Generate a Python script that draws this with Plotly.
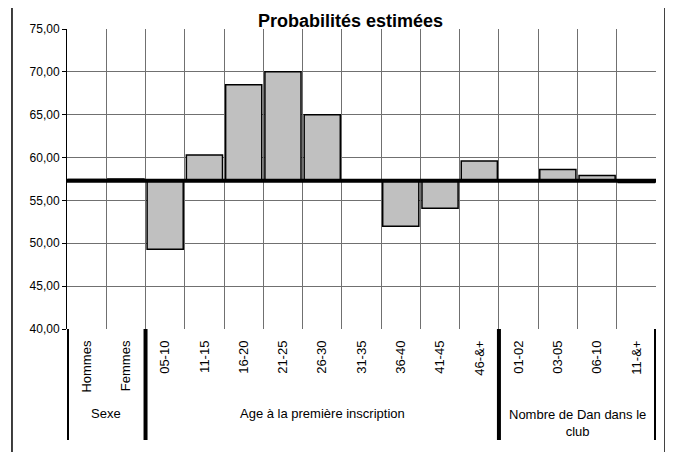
import plotly.graph_objects as go

# ---- data ----
categories = ["Hommes", "Femmes", "05-10", "11-15", "16-20", "21-25", "26-30",
              "31-35", "36-40", "41-45", "46-&+", "01-02", "03-05", "06-10", "11-&+"]
values = [57.45, 57.5, 49.3, 60.3, 68.5, 70.0, 65.0,
          None, 52.0, 54.1, 59.6, None, 58.6, 57.9, 57.1]
baseline = 57.3
groups = ["Sexe", "Age à la première inscription", "Nombre de Dan dans le<br>club"]
group_sizes = [2, 9, 4]
title = "Probabilités estimées"
y_min, y_max, y_step = 40, 75, 5

FONT = "Liberation Sans, Arial, sans-serif"
n = len(categories)
xs = list(range(n))

fig = go.Figure()
fig.add_trace(go.Bar(
    x=xs,
    y=[(v - baseline) if v is not None else None for v in values],
    base=baseline,
    width=0.92,
    marker=dict(color="#C0C0C0", line=dict(color="black", width=1.5)),
    hoverinfo="skip",
))
fig.add_trace(go.Scatter(
    x=[-0.5, n - 0.5], y=[baseline, baseline], mode="lines",
    line=dict(color="black", width=4), hoverinfo="skip", cliponaxis=False,
))

# group boundaries
bounds = [-0.5]
for s in group_sizes:
    bounds.append(bounds[-1] + s)

shapes = []
for b in bounds:
    shapes.append(dict(type="line", xref="x", yref="paper", x0=b, x1=b,
                       y0=0, y1=-0.37, line=dict(color="black", width=4)))
# outer chart border
shapes.append(dict(type="rect", xref="paper", yref="paper",
                   x0=-0.0934, x1=1.0153, y0=1.08, y1=-0.6,
                   line=dict(color="black", width=1.5), layer="below"))

annotations = []
for i, g in enumerate(groups):
    c = (bounds[i] + bounds[i + 1]) / 2
    annotations.append(dict(text=g, xref="x", yref="paper", x=c,
                            y=-0.28 if "<br>" not in g else -0.312,
                            showarrow=False, xanchor="center", yanchor="middle",
                            font=dict(family=FONT, size=13, color="black")))
annotations.append(dict(text="<b>" + title + "</b>", xref="paper", yref="paper",
                        x=0.482, y=1.027, showarrow=False, xanchor="center",
                        yanchor="middle",
                        font=dict(family=FONT, size=18, color="black")))

fig.update_layout(
    width=673, height=452,
    margin=dict(l=59, r=25, t=21, b=131, autoexpand=False),
    paper_bgcolor="white", plot_bgcolor="white",
    showlegend=False,
    separators=", ",
    shapes=shapes,
    annotations=annotations,
    font=dict(family=FONT, size=12, color="black"),
    xaxis=dict(
        range=[-0.5, n - 0.5], tickmode="array", tickvals=xs, ticktext=categories,
        tickangle=-90, showgrid=False, zeroline=False, showline=False, ticks="",
        tickfont=dict(family=FONT, size=13, color="black"),
        ticklabelstandoff=8,
        minor=dict(tickmode="array", tickvals=[i - 0.5 for i in range(1, n + 1)],
                   showgrid=True, gridcolor="#707070", gridwidth=1, ticks=""),
    ),
    yaxis=dict(
        range=[y_min, y_max], tickmode="linear", tick0=y_min, dtick=y_step,
        tickformat=".2f", showgrid=True, gridcolor="#707070", gridwidth=1,
        zeroline=False, showline=True, linecolor="black", linewidth=1,
        ticks="outside", ticklen=4, tickcolor="black",
        tickfont=dict(family=FONT, size=12, color="black"),
    ),
)

fig.write_html("out.html")
